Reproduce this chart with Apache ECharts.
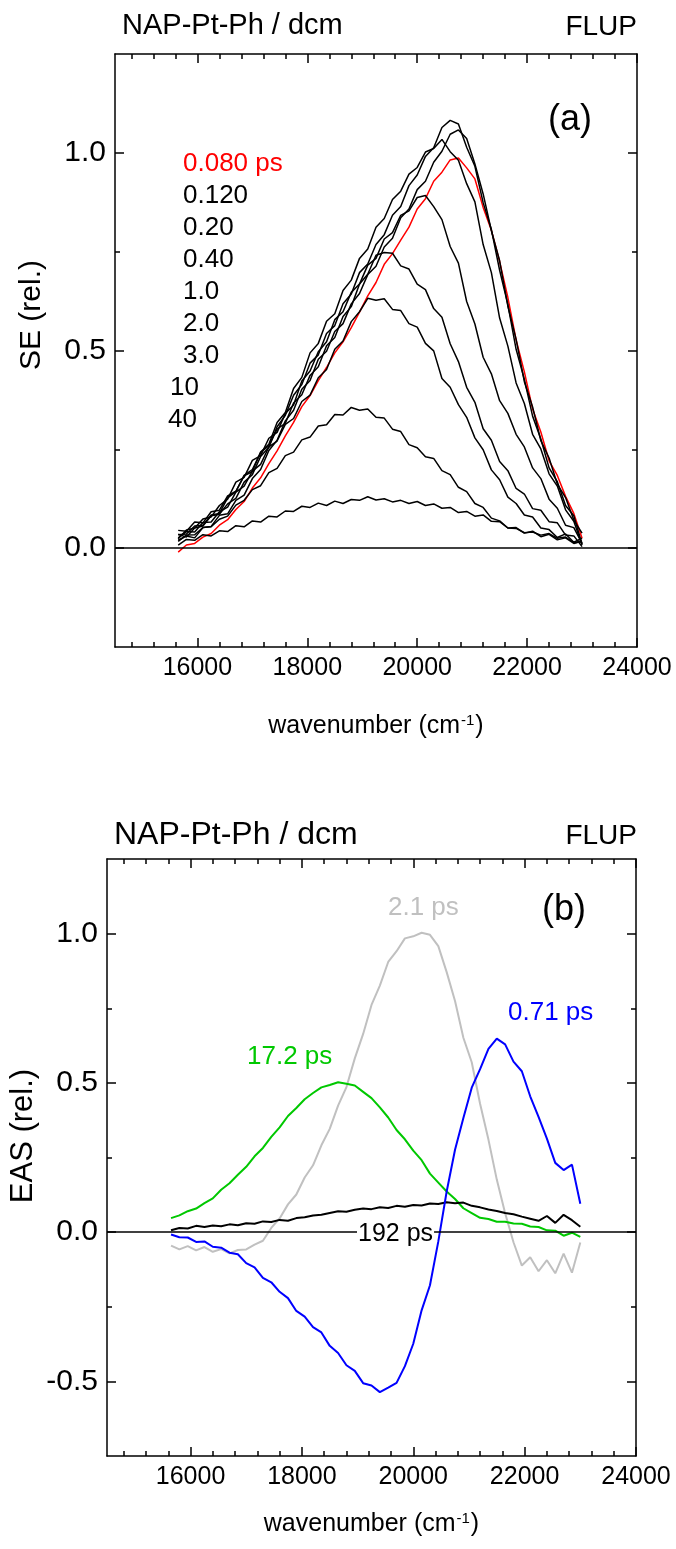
<!DOCTYPE html>
<html>
<head>
<meta charset="utf-8">
<title>NAP-Pt-Ph / dcm FLUP</title>
<script src="https://cdn.jsdelivr.net/npm/echarts@6.0.0/dist/echarts.min.js"></script>
<style>
  html, body { margin: 0; padding: 0; background: #fff; }
  #main { width: 676px; height: 1549px; }
</style>
</head>
<body>
<div id="main"></div>
<script type="text/javascript">
// wavenumber grid (cm-1) shared by all spectra
var wn = [15650, 15800, 15950, 16100, 16250, 16400, 16550, 16700, 16850, 17000,
          17150, 17300, 17450, 17600, 17750, 17900, 18050, 18200, 18350, 18500,
          18650, 18800, 18950, 19100, 19250, 19400, 19550, 19700, 19850, 20000,
          20150, 20300, 20450, 20600, 20750, 20900, 21050, 21200, 21350, 21500,
          21650, 21800, 21950, 22100, 22250, 22400, 22550, 22700, 22850, 23000];

// (a) time resolved SE spectra
var se0080 = [-0.01, 0.008, 0.012, 0.028, 0.037, 0.058, 0.072, 0.098, 0.118, 0.152, 0.178, 0.214, 0.246, 0.284, 0.318, 0.358, 0.386, 0.424, 0.457, 0.494, 0.522, 0.558, 0.597, 0.638, 0.672, 0.718, 0.745, 0.779, 0.812, 0.858, 0.884, 0.928, 0.951, 0.982, 0.987, 0.962, 0.934, 0.862, 0.804, 0.725, 0.634, 0.527, 0.446, 0.352, 0.294, 0.221, 0.184, 0.131, 0.088, 0.025];
var se0120 = [0.02, 0.031, 0.026, 0.052, 0.055, 0.083, 0.087, 0.121, 0.134, 0.176, 0.199, 0.247, 0.273, 0.322, 0.349, 0.402, 0.424, 0.478, 0.498, 0.548, 0.568, 0.618, 0.644, 0.692, 0.713, 0.762, 0.784, 0.836, 0.858, 0.907, 0.928, 0.976, 1.004, 1.047, 1.058, 1.036, 0.972, 0.896, 0.803, 0.727, 0.612, 0.528, 0.421, 0.357, 0.272, 0.228, 0.162, 0.128, 0.071, 0.038];
var se020 = [0.035, 0.028, 0.051, 0.056, 0.082, 0.086, 0.112, 0.126, 0.167, 0.186, 0.232, 0.255, 0.307, 0.336, 0.387, 0.414, 0.468, 0.489, 0.543, 0.563, 0.618, 0.643, 0.697, 0.719, 0.768, 0.793, 0.842, 0.864, 0.917, 0.944, 0.991, 1.013, 1.064, 1.082, 1.073, 1.014, 0.966, 0.874, 0.806, 0.703, 0.616, 0.503, 0.427, 0.334, 0.276, 0.203, 0.168, 0.108, 0.082, 0.01];
var se040 = [0.045, 0.043, 0.066, 0.064, 0.092, 0.096, 0.132, 0.144, 0.183, 0.194, 0.243, 0.263, 0.318, 0.343, 0.404, 0.432, 0.494, 0.518, 0.574, 0.593, 0.652, 0.678, 0.733, 0.757, 0.812, 0.834, 0.882, 0.903, 0.946, 0.963, 1.002, 1.011, 1.034, 1.003, 0.981, 0.922, 0.876, 0.768, 0.697, 0.582, 0.511, 0.418, 0.366, 0.288, 0.251, 0.188, 0.157, 0.097, 0.068, 0.008];
var se10 = [0.024, 0.046, 0.051, 0.074, 0.079, 0.108, 0.124, 0.167, 0.179, 0.222, 0.234, 0.278, 0.293, 0.341, 0.362, 0.423, 0.448, 0.497, 0.522, 0.578, 0.598, 0.647, 0.668, 0.716, 0.733, 0.782, 0.798, 0.842, 0.853, 0.887, 0.892, 0.864, 0.831, 0.763, 0.721, 0.624, 0.567, 0.483, 0.441, 0.373, 0.341, 0.288, 0.256, 0.203, 0.176, 0.124, 0.101, 0.058, 0.052, 0.012];
var se20 = [0.034, 0.036, 0.056, 0.058, 0.084, 0.088, 0.127, 0.143, 0.184, 0.199, 0.242, 0.259, 0.301, 0.316, 0.367, 0.388, 0.437, 0.459, 0.512, 0.533, 0.586, 0.611, 0.668, 0.693, 0.741, 0.748, 0.746, 0.714, 0.706, 0.668, 0.654, 0.606, 0.584, 0.517, 0.472, 0.407, 0.369, 0.302, 0.273, 0.219, 0.196, 0.151, 0.137, 0.1, 0.096, 0.067, 0.064, 0.033, 0.031, 0.004];
var se30 = [0.026, 0.042, 0.041, 0.065, 0.066, 0.092, 0.104, 0.142, 0.157, 0.195, 0.212, 0.256, 0.271, 0.313, 0.328, 0.371, 0.387, 0.431, 0.452, 0.503, 0.524, 0.573, 0.598, 0.632, 0.627, 0.631, 0.604, 0.601, 0.568, 0.559, 0.518, 0.499, 0.429, 0.407, 0.363, 0.331, 0.279, 0.249, 0.198, 0.173, 0.129, 0.113, 0.084, 0.079, 0.051, 0.047, 0.027, 0.036, 0.015, 0.025];
var se100 = [0.017, 0.033, 0.034, 0.052, 0.054, 0.073, 0.081, 0.109, 0.121, 0.148, 0.158, 0.191, 0.202, 0.234, 0.243, 0.274, 0.281, 0.309, 0.312, 0.338, 0.337, 0.356, 0.349, 0.352, 0.331, 0.329, 0.301, 0.295, 0.262, 0.254, 0.231, 0.227, 0.196, 0.186, 0.154, 0.143, 0.113, 0.103, 0.076, 0.069, 0.051, 0.052, 0.038, 0.043, 0.029, 0.035, 0.021, 0.026, 0.012, 0.018];
var se400 = [0.008, 0.022, 0.02, 0.034, 0.031, 0.044, 0.042, 0.057, 0.054, 0.069, 0.066, 0.081, 0.079, 0.094, 0.093, 0.106, 0.103, 0.114, 0.108, 0.119, 0.113, 0.123, 0.121, 0.13, 0.122, 0.125, 0.117, 0.121, 0.113, 0.118, 0.108, 0.112, 0.101, 0.103, 0.09, 0.093, 0.081, 0.084, 0.068, 0.067, 0.051, 0.05, 0.039, 0.041, 0.033, 0.037, 0.025, 0.028, 0.014, 0.016];
var seLabels = ['0.080 ps', '0.120', '0.20', '0.40', '1.0', '2.0', '3.0', '10', '40'];

// (b) evolution associated spectra
var eas071 = [-0.008, -0.017, -0.018, -0.033, -0.031, -0.049, -0.052, -0.069, -0.074, -0.104, -0.118, -0.153, -0.168, -0.2, -0.221, -0.264, -0.283, -0.318, -0.336, -0.381, -0.405, -0.446, -0.465, -0.506, -0.514, -0.536, -0.521, -0.505, -0.449, -0.374, -0.262, -0.178, -0.031, 0.136, 0.276, 0.382, 0.484, 0.546, 0.614, 0.648, 0.629, 0.571, 0.539, 0.455, 0.386, 0.313, 0.232, 0.208, 0.226, 0.095];
var eas21 = [-0.045, -0.058, -0.047, -0.061, -0.05, -0.066, -0.057, -0.071, -0.06, -0.058, -0.042, -0.029, 0.014, 0.046, 0.093, 0.126, 0.183, 0.224, 0.291, 0.346, 0.424, 0.486, 0.582, 0.664, 0.761, 0.826, 0.905, 0.941, 0.984, 0.991, 1.003, 0.996, 0.958, 0.871, 0.774, 0.651, 0.569, 0.43, 0.31, 0.176, 0.063, -0.034, -0.112, -0.084, -0.131, -0.094, -0.138, -0.072, -0.136, -0.035];
var eas172 = [0.047, 0.056, 0.07, 0.079, 0.097, 0.113, 0.142, 0.164, 0.192, 0.219, 0.254, 0.282, 0.319, 0.351, 0.389, 0.416, 0.445, 0.466, 0.485, 0.493, 0.502, 0.497, 0.491, 0.47, 0.449, 0.418, 0.384, 0.342, 0.311, 0.273, 0.241, 0.196, 0.166, 0.136, 0.111, 0.08, 0.064, 0.048, 0.044, 0.035, 0.035, 0.029, 0.028, 0.019, 0.017, 0.006, 0.005, -0.012, -0.002, -0.016];
var eas192 = [0.006, 0.014, 0.012, 0.021, 0.017, 0.022, 0.02, 0.026, 0.023, 0.03, 0.028, 0.036, 0.034, 0.041, 0.038, 0.047, 0.05, 0.056, 0.058, 0.064, 0.07, 0.068, 0.075, 0.079, 0.077, 0.083, 0.081, 0.088, 0.085, 0.091, 0.089, 0.096, 0.094, 0.1, 0.097, 0.099, 0.088, 0.083, 0.076, 0.071, 0.064, 0.06, 0.052, 0.045, 0.038, 0.054, 0.031, 0.058, 0.04, 0.018];
var easLabels = ['0.71 ps', '2.1 ps', '17.2 ps', '192 ps'];

// axis ticks
var xTicks = [16000, 18000, 20000, 22000, 24000];
var xMinor = [14800, 15200, 15600, 16400, 16800, 17200, 17600, 18400, 18800, 19200, 19600,
              20400, 20800, 21200, 21600, 22400, 22800, 23200, 23600];
var seTicks = [0, 0.5, 1.0];
var seMinor = [0.25, 0.75];
var easTicks = [-0.5, 0, 0.5, 1.0];
var easMinor = [-0.25, 0.25, 0.75];

var FONT = "'Liberation Sans', Arial, sans-serif";
var BLACK = '#000';

function pairs(v) {
    return wn.map(function (x, i) { return [x, v[i]]; });
}

// 4 x axes per grid: bottom major (labels), bottom minor, top major, top minor
function xAxes(g, nameGap) {
    var line = {color: BLACK, width: 1.5};
    return [
        {gridIndex: g, type: 'value', min: 14500, max: 24000, position: 'bottom',
         axisLine: {show: true, onZero: false, lineStyle: line},
         axisTick: {show: true, inside: true, length: 9, customValues: xTicks, lineStyle: line},
         axisLabel: {show: true, customValues: xTicks, margin: 9, fontSize: 25, color: BLACK, fontFamily: FONT,
             formatter: function (v) { return String(v); }},
         splitLine: {show: false},
         name: 'wavenumber (cm{sup|-1})', nameLocation: 'middle', nameGap: nameGap,
         nameTextStyle: {fontSize: 25, color: BLACK, fontFamily: FONT,
             rich: {sup: {fontSize: 15, fontFamily: FONT, color: BLACK, verticalAlign: 'top', padding: [0, 1, 12, 1]}}}},
        {gridIndex: g, type: 'value', min: 14500, max: 24000, position: 'bottom',
         axisLine: {show: false, onZero: false},
         axisTick: {show: true, inside: true, length: 5, customValues: xMinor, lineStyle: line},
         axisLabel: {show: false}, splitLine: {show: false}},
        {gridIndex: g, type: 'value', min: 14500, max: 24000, position: 'top',
         axisLine: {show: true, onZero: false, lineStyle: line},
         axisTick: {show: true, inside: true, length: 9, customValues: xTicks, lineStyle: line},
         axisLabel: {show: false}, splitLine: {show: false}},
        {gridIndex: g, type: 'value', min: 14500, max: 24000, position: 'top',
         axisLine: {show: false, onZero: false},
         axisTick: {show: true, inside: true, length: 5, customValues: xMinor, lineStyle: line},
         axisLabel: {show: false}, splitLine: {show: false}}
    ];
}

function yAxes(g, min, max, major, minor) {
    var line = {color: BLACK, width: 1.5};
    return [
        {gridIndex: g, type: 'value', min: min, max: max, position: 'left',
         axisLine: {show: true, onZero: false, lineStyle: line},
         axisTick: {show: true, inside: true, length: 9, customValues: major, lineStyle: line},
         axisLabel: {show: true, customValues: major, margin: 9, fontSize: 30, color: BLACK, fontFamily: FONT,
             formatter: function (v) { return v.toFixed(1); }},
         splitLine: {show: false}},
        {gridIndex: g, type: 'value', min: min, max: max, position: 'left',
         axisLine: {show: false, onZero: false},
         axisTick: {show: true, inside: true, length: 5, customValues: minor, lineStyle: line},
         axisLabel: {show: false}, splitLine: {show: false}},
        {gridIndex: g, type: 'value', min: min, max: max, position: 'right',
         axisLine: {show: true, onZero: false, lineStyle: line},
         axisTick: {show: true, inside: true, length: 9, customValues: major, lineStyle: line},
         axisLabel: {show: false}, splitLine: {show: false}},
        {gridIndex: g, type: 'value', min: min, max: max, position: 'right',
         axisLine: {show: false, onZero: false},
         axisTick: {show: true, inside: true, length: 5, customValues: minor, lineStyle: line},
         axisLabel: {show: false}, splitLine: {show: false}}
    ];
}

function spectrum(g, data, color, width, zeroLine) {
    var s = {
        type: 'line', xAxisIndex: g * 4, yAxisIndex: g * 4, data: pairs(data),
        showSymbol: false, symbol: 'none', silent: true, animation: false,
        lineStyle: {color: color, width: width}
    };
    if (zeroLine) {
        s.markLine = {silent: true, symbol: 'none', label: {show: false}, animation: false,
            lineStyle: {color: BLACK, width: 1.5, type: 'solid'}, data: [{yAxis: 0}]};
    }
    return s;
}

function txt(str, x, y, size, color, align, extra) {
    var st = {text: str, fill: color || BLACK, fontSize: size, fontFamily: FONT,
              align: align || 'left', verticalAlign: 'middle'};
    if (extra) { for (var k in extra) st[k] = extra[k]; }
    return {type: 'text', x: x, y: y, z: 100, style: st};
}

var seSets = [se0080, se0120, se020, se040, se10, se20, se30, se100, se400];
var seColors = ['#ff0000', BLACK, BLACK, BLACK, BLACK, BLACK, BLACK, BLACK, BLACK];
var seLabelX = [183, 183, 183, 183, 183, 183, 183, 170, 168];

var series = [];
seSets.forEach(function (d, i) {
    series.push(spectrum(0, d, seColors[i], 1.5, i === 0));
});
series.push(spectrum(1, eas21, '#c0c0c0', 2, true));
series.push(spectrum(1, eas172, '#00c800', 2, false));
series.push(spectrum(1, eas192, BLACK, 2, false));
series.push(spectrum(1, eas071, '#0000ff', 2, false));

var graphics = [
    txt('NAP-Pt-Ph / dcm', 122, 26, 29),
    txt('FLUP', 637, 27, 28, BLACK, 'right'),
    txt('(a)', 548, 120, 36),
    {type: 'text', x: 32, y: 315, rotation: Math.PI / 2, z: 100,
     style: {text: 'SE (rel.)', fill: BLACK, fontSize: 30, fontFamily: FONT, align: 'center', verticalAlign: 'middle'}},
    txt('NAP-Pt-Ph / dcm', 114, 835, 32),
    txt('FLUP', 637, 836, 28, BLACK, 'right'),
    txt('(b)', 542, 910, 36),
    {type: 'text', x: 23, y: 1136, rotation: Math.PI / 2, z: 100,
     style: {text: 'EAS (rel.)', fill: BLACK, fontSize: 31, fontFamily: FONT, align: 'center', verticalAlign: 'middle'}},
    txt(easLabels[1], 388, 908, 26, '#c0c0c0'),
    txt(easLabels[0], 508, 1013, 26, '#0000ff'),
    txt(easLabels[2], 247, 1057, 26, '#00c800'),
    txt(easLabels[3], 357, 1234, 25, BLACK, 'left', {backgroundColor: '#fff', padding: [0, 1, 0, 1]})
];
seLabels.forEach(function (t, i) {
    graphics.push(txt(t, seLabelX[i], 164 + i * 32, 26, seColors[i]));
});

var chart = echarts.init(document.getElementById('main'), null, {renderer: 'canvas'});
chart.setOption({
    animation: false,
    backgroundColor: '#fff',
    grid: [
        {left: 115, top: 54, width: 522, height: 593, containLabel: false, outerBoundsMode: 'none'},
        {left: 107, top: 859, width: 529, height: 597, containLabel: false, outerBoundsMode: 'none'}
    ],
    xAxis: xAxes(0, 66).concat(xAxes(1, 55)),
    yAxis: yAxes(0, -0.25, 1.25, seTicks, seMinor).concat(yAxes(1, -0.75, 1.25, easTicks, easMinor)),
    series: series,
    graphic: graphics
});
</script>
</body>
</html>
